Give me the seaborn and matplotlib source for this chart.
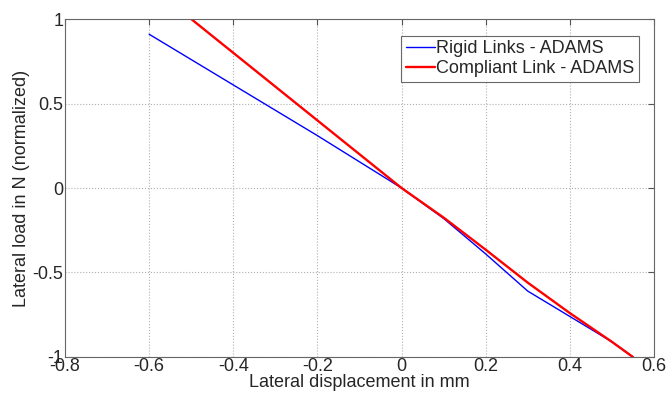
import matplotlib
matplotlib.use("Agg")
import matplotlib.pyplot as plt
import seaborn as sns
import pandas as pd

rigid_x = [-0.6, -0.4, -0.2, 0.0, 0.1, 0.2, 0.3, 0.4, 0.5, 0.55]
rigid_y = [0.91, 0.61, 0.31, 0.0, -0.18, -0.39, -0.61, -0.76, -0.91, -1.0]
compl_x = [-0.5, -0.4, -0.2, 0.0, 0.1, 0.2, 0.3, 0.4, 0.5, 0.55]
compl_y = [1.0, 0.80, 0.40, 0.0, -0.175, -0.365, -0.56, -0.74, -0.91, -1.0]
series_names = ["Rigid Links - ADAMS", "Compliant Link - ADAMS"]
x_ticks = [-0.8, -0.6, -0.4, -0.2, 0, 0.2, 0.4, 0.6]
y_ticks = [-1, -0.5, 0, 0.5, 1]

sns.set_style("white")
plt.rcParams['font.family'] = ['Liberation Sans', 'DejaVu Sans']

df = pd.concat([
    pd.DataFrame({"x": rigid_x, "y": rigid_y, "s": series_names[0]}),
    pd.DataFrame({"x": compl_x, "y": compl_y, "s": series_names[1]}),
])

fs = 13
fig = plt.figure(figsize=(6.7, 3.96), dpi=100)
ax = fig.add_axes([0.097, 0.0985, 0.879, 0.8535])
sns.lineplot(data=df, x="x", y="y", hue="s", palette=["#0000ff", "#ff0000"],
             sort=False, estimator=None, ax=ax, legend=True)
lines = ax.get_lines()
lines[0].set_linewidth(1.0)
lines[1].set_linewidth(1.7)

ax.set_xlim(-0.8, 0.6)
ax.set_ylim(-1, 1)
ax.set_xticks(x_ticks)
ax.set_yticks(y_ticks)
ax.set_xticklabels(["-0.8", "-0.6", "-0.4", "-0.2", "0", "0.2", "0.4", "0.6"])
ax.set_yticklabels(["-1", "-0.5", "0", "0.5", "1"])
ax.grid(True, linestyle=":", color="#b0b0b0", linewidth=0.8)
ax.tick_params(direction="in", length=4, top=True, right=True, labelsize=fs,
               color="#555555", pad=1)
for sp in ax.spines.values():
    sp.set_color("#666666")
    sp.set_linewidth(0.8)
ax.set_xlabel("Lateral displacement in mm", fontsize=fs, labelpad=-1)
ax.set_ylabel("Lateral load in N (normalized)", fontsize=fs, labelpad=2)

leg = ax.legend(handles=lines[:2], labels=series_names, loc="upper right",
                bbox_to_anchor=(0.975, 0.95), fontsize=fs, frameon=True,
                fancybox=False, handlelength=1.6, handletextpad=0.1,
                borderpad=0.25, labelspacing=0.15, borderaxespad=0)
leg.get_frame().set_edgecolor("#444444")
leg.get_frame().set_linewidth(0.8)

fig.savefig("out.png", dpi=100)
